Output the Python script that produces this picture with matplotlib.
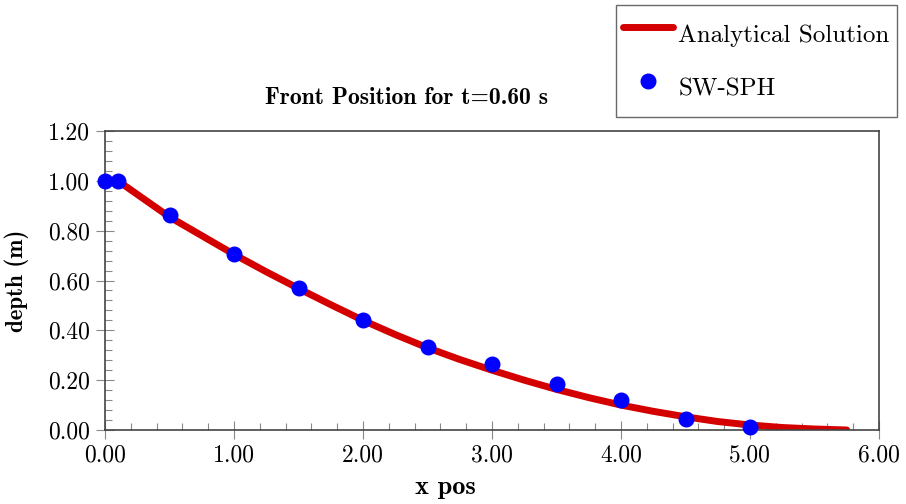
import matplotlib
matplotlib.use('Agg')
import matplotlib.pyplot as plt
from matplotlib.ticker import MultipleLocator, FormatStrFormatter

plt.rcParams['font.family'] = 'cmr10'
plt.rcParams['mathtext.fontset'] = 'cm'
plt.rcParams['axes.formatter.use_mathtext'] = True

# analytical dam-break profile at t = 0.60 s
x_exact = [0.1, 0.5, 0.75, 1.0, 1.25, 1.5, 1.75, 2.0, 2.25, 2.5, 2.75, 3.0,
           3.25, 3.5, 3.75, 4.0, 4.25, 4.5, 4.75, 5.0, 5.25, 5.5, 5.75]
h_exact = [1.0, 0.855, 0.78, 0.705, 0.635, 0.568, 0.503, 0.44, 0.383, 0.33,
           0.283, 0.24, 0.2, 0.163, 0.13, 0.1, 0.075, 0.053, 0.034, 0.02,
           0.01, 0.004, 0.0]

# SW-SPH particles
x_sph = [0.0, 0.1, 0.5, 1.0, 1.5, 2.0, 2.5, 3.0, 3.5, 4.0, 4.5, 5.0]
h_sph = [1.0, 1.0, 0.863, 0.708, 0.57, 0.441, 0.333, 0.263, 0.183, 0.122, 0.044, 0.014]

fig = plt.figure(figsize=(9.06, 5.04), dpi=100)
ax = fig.add_axes([105/906, 1 - 430/504, 774/906, 299/504])

ax.plot(x_exact, h_exact, color='#d40000', lw=5, solid_capstyle='round',
        label='Analytical Solution', zorder=2)
ax.plot(x_sph, h_sph, 'o', color='#0000ff', ms=10.5, label='SW-SPH',
        clip_on=False, zorder=3)

ax.set_xlim(0, 6)
ax.set_ylim(0, 1.2)
ax.xaxis.set_major_locator(MultipleLocator(1.0))
ax.xaxis.set_minor_locator(MultipleLocator(0.2))
ax.yaxis.set_major_locator(MultipleLocator(0.2))
ax.yaxis.set_minor_locator(MultipleLocator(0.04))
ax.xaxis.set_major_formatter(FormatStrFormatter('%.2f'))
ax.yaxis.set_major_formatter(FormatStrFormatter('%.2f'))
ax.tick_params(which='major', direction='inout', length=13, width=0.8,
               color='#888888', labelsize=17, pad=4)
ax.tick_params(which='minor', direction='in', length=5, width=0.8,
               color='#888888')
for s in ax.spines.values():
    s.set_color('#444444')
    s.set_linewidth(1.2)

ax.text(0.39, 1.11, 'Front Position for t=0.60 s', transform=ax.transAxes,
        ha='center', va='center', fontsize=17, family='cmb10')
ax.set_xlabel('x pos', family='cmb10', fontsize=19)
ax.xaxis.set_label_coords(0.44, -0.155)
ax.set_ylabel('depth (m)', family='cmb10', fontsize=16.5)
ax.yaxis.set_label_coords(-0.098, 0.5)

leg = fig.legend(loc='upper right', bbox_to_anchor=(897/906, 1 - 5/504),
                 fontsize=18, fancybox=False, edgecolor='#444444',
                 handlelength=2.0, handleheight=2.3, borderpad=0.3,
                 labelspacing=0.4, handletextpad=0.2, borderaxespad=0)
leg.get_frame().set_linewidth(1.0)

fig.savefig('out.png', dpi=100)
